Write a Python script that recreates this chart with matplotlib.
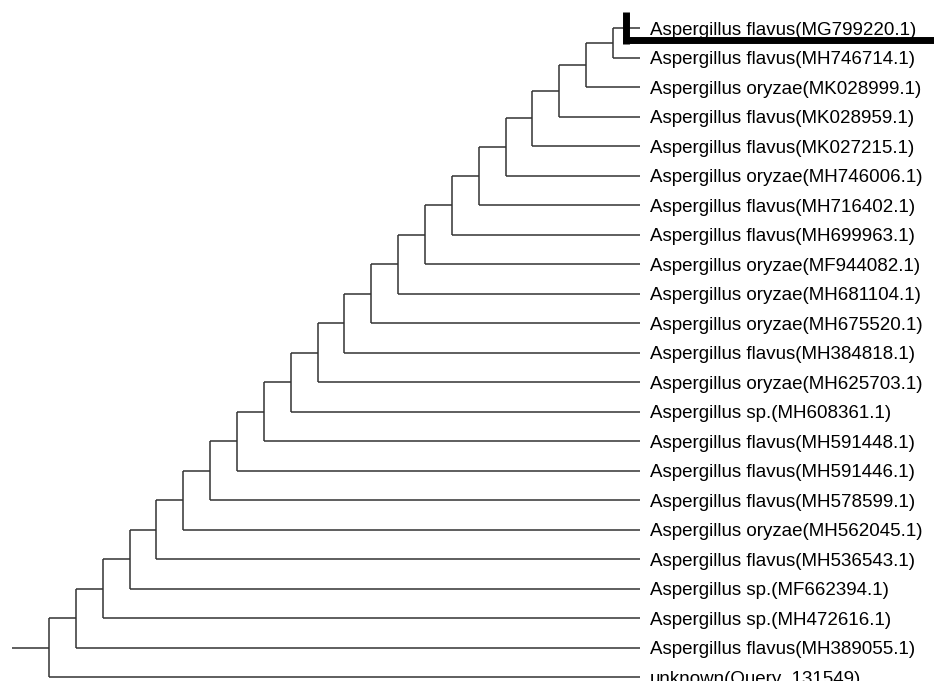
import matplotlib
matplotlib.use("Agg")
import matplotlib.pyplot as plt
from matplotlib.transforms import offset_copy

# Leaf labels, top to bottom (caterpillar / ladder topology)
leaves = [
    "Aspergillus flavus(MG799220.1)",
    "Aspergillus flavus(MH746714.1)",
    "Aspergillus oryzae(MK028999.1)",
    "Aspergillus flavus(MK028959.1)",
    "Aspergillus flavus(MK027215.1)",
    "Aspergillus oryzae(MH746006.1)",
    "Aspergillus flavus(MH716402.1)",
    "Aspergillus flavus(MH699963.1)",
    "Aspergillus oryzae(MF944082.1)",
    "Aspergillus oryzae(MH681104.1)",
    "Aspergillus oryzae(MH675520.1)",
    "Aspergillus flavus(MH384818.1)",
    "Aspergillus oryzae(MH625703.1)",
    "Aspergillus sp.(MH608361.1)",
    "Aspergillus flavus(MH591448.1)",
    "Aspergillus flavus(MH591446.1)",
    "Aspergillus flavus(MH578599.1)",
    "Aspergillus oryzae(MH562045.1)",
    "Aspergillus flavus(MH536543.1)",
    "Aspergillus sp.(MF662394.1)",
    "Aspergillus sp.(MH472616.1)",
    "Aspergillus flavus(MH389055.1)",
    "unknown(Query_131549)",
]
# Depth (node level) at which each leaf branches off; tips all aligned (cladogram)
branch_depth = [21, 21, 20, 19, 18, 17, 16, 15, 14, 13, 12, 11, 10, 9, 8, 7, 6, 5, 4, 3, 2, 1, 0]
tip_depth = 22
root_stub = -1.38

W, H = 934, 681
fig = plt.figure(figsize=(W / 100, H / 100), dpi=100)
ax = fig.add_axes([0, 0, 1, 1])
px_per_x = 26.86
x0_px = 49
px_per_y = 29.5
y0_px = 28
ax.set_xlim(-x0_px / px_per_x, (W - x0_px) / px_per_x)
ax.set_ylim((H - y0_px) / px_per_y, -y0_px / px_per_y)
ax.axis("off")

lc = "#333333"
lw = 1.1
n = len(leaves)
ax.plot([branch_depth[0], branch_depth[0]], [0, 1], color=lc, lw=lw, solid_capstyle="butt")
prev_y = 0.5
for i in range(2, n):
    d = branch_depth[i]
    ax.plot([d, branch_depth[i - 1]], [prev_y, prev_y], color=lc, lw=lw, solid_capstyle="butt")
    ax.plot([d, d], [prev_y, i], color=lc, lw=lw, solid_capstyle="butt")
    prev_y = (prev_y + i) / 2
# root stub
ax.plot([root_stub, branch_depth[-1]], [prev_y, prev_y], color=lc, lw=lw, solid_capstyle="butt")

# leaf branches and labels
trans = offset_copy(ax.transData, fig=fig, x=0, y=-6.7, units="dots")
for i, lab in enumerate(leaves):
    ax.plot([branch_depth[i], tip_depth], [i, i], color=lc, lw=lw, solid_capstyle="butt")
    ax.text(tip_depth + 0.36, i, lab, va="baseline", ha="left", fontsize=13.5,
            family=["Liberation Sans", "DejaVu Sans"], color="black", transform=trans)

# bold highlight mark near top leaf
hx = 21.5
ax.plot([hx, hx], [-0.54, 0.54], color="black", lw=5.0, solid_capstyle="butt")
ax.plot([hx - 0.13, (W - x0_px) / px_per_x], [0.42, 0.42], color="black", lw=5.0, solid_capstyle="butt")

fig.savefig("out.png", dpi=100)
